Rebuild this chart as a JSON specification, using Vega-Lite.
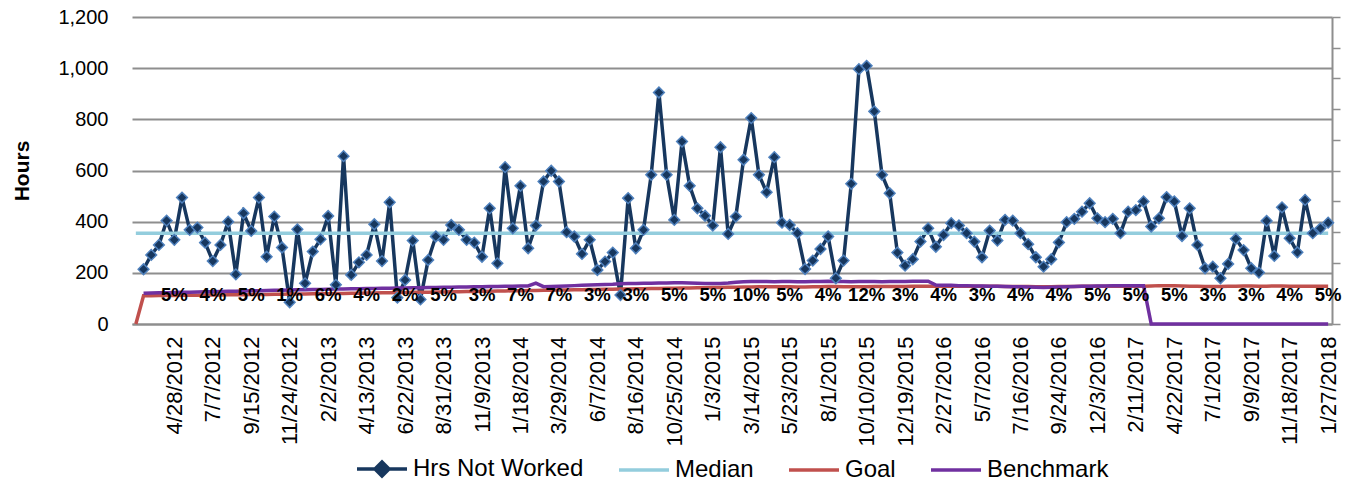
{
  "$schema": "https://vega.github.io/schema/vega-lite/v6.json",
  "width": 1200,
  "height": 307,
  "autosize": {"type": "none"},
  "padding": {"left": 132, "top": 17, "right": 16, "bottom": 167},
  "background": "white",
  "config": {
    "font": "Liberation Sans",
    "view": {"stroke": null},
    "axis": {"labelColor": "#000000", "labelFont": "Liberation Sans", "titleColor": "#000000"}
  },
  "data": {
    "values": [
      {"date": "2/18/2012", "goal": 0},
      {"date": "3/3/2012", "hrs": 214, "goal": 110, "bench": 120},
      {"date": "3/17/2012", "hrs": 270, "goal": 110, "bench": 121},
      {"date": "3/31/2012", "hrs": 309, "goal": 111, "bench": 122},
      {"date": "4/14/2012", "hrs": 404, "goal": 111, "bench": 122},
      {"date": "4/28/2012", "hrs": 329, "goal": 111, "bench": 123, "pct": "5%"},
      {"date": "5/12/2012", "hrs": 494, "goal": 112, "bench": 124},
      {"date": "5/26/2012", "hrs": 368, "goal": 112, "bench": 124},
      {"date": "6/9/2012", "hrs": 377, "goal": 112, "bench": 125},
      {"date": "6/23/2012", "hrs": 318, "goal": 113, "bench": 126},
      {"date": "7/7/2012", "hrs": 246, "goal": 113, "bench": 126, "pct": "4%"},
      {"date": "7/21/2012", "hrs": 309, "goal": 113, "bench": 127},
      {"date": "8/4/2012", "hrs": 400, "goal": 114, "bench": 128},
      {"date": "8/18/2012", "hrs": 194, "goal": 114, "bench": 128},
      {"date": "9/1/2012", "hrs": 433, "goal": 114, "bench": 129},
      {"date": "9/15/2012", "hrs": 364, "goal": 115, "bench": 130, "pct": "5%"},
      {"date": "9/29/2012", "hrs": 494, "goal": 115, "bench": 130},
      {"date": "10/13/2012", "hrs": 263, "goal": 115, "bench": 131},
      {"date": "10/27/2012", "hrs": 420, "goal": 116, "bench": 132},
      {"date": "11/10/2012", "hrs": 299, "goal": 116, "bench": 132},
      {"date": "11/24/2012", "hrs": 85, "goal": 117, "bench": 133, "pct": "1%"},
      {"date": "12/8/2012", "hrs": 370, "goal": 117, "bench": 134},
      {"date": "12/22/2012", "hrs": 159, "goal": 117, "bench": 134},
      {"date": "1/5/2013", "hrs": 283, "goal": 118, "bench": 135},
      {"date": "1/19/2013", "hrs": 331, "goal": 118, "bench": 135},
      {"date": "2/2/2013", "hrs": 422, "goal": 118, "bench": 136, "pct": "6%"},
      {"date": "2/16/2013", "hrs": 153, "goal": 119, "bench": 137},
      {"date": "3/2/2013", "hrs": 656, "goal": 119, "bench": 137},
      {"date": "3/16/2013", "hrs": 192, "goal": 120, "bench": 138},
      {"date": "3/30/2013", "hrs": 241, "goal": 120, "bench": 138},
      {"date": "4/13/2013", "hrs": 270, "goal": 121, "bench": 139, "pct": "4%"},
      {"date": "4/27/2013", "hrs": 390, "goal": 121, "bench": 139},
      {"date": "5/11/2013", "hrs": 246, "goal": 122, "bench": 140},
      {"date": "5/25/2013", "hrs": 476, "goal": 122, "bench": 140},
      {"date": "6/8/2013", "hrs": 103, "goal": 123, "bench": 141},
      {"date": "6/22/2013", "hrs": 172, "goal": 123, "bench": 141, "pct": "2%"},
      {"date": "7/6/2013", "hrs": 326, "goal": 124, "bench": 142},
      {"date": "7/20/2013", "hrs": 96, "goal": 124, "bench": 142},
      {"date": "8/3/2013", "hrs": 250, "goal": 124, "bench": 143},
      {"date": "8/17/2013", "hrs": 342, "goal": 125, "bench": 143},
      {"date": "8/31/2013", "hrs": 329, "goal": 125, "bench": 144, "pct": "5%"},
      {"date": "9/14/2013", "hrs": 387, "goal": 126, "bench": 144},
      {"date": "9/28/2013", "hrs": 368, "goal": 126, "bench": 145},
      {"date": "10/12/2013", "hrs": 329, "goal": 127, "bench": 145},
      {"date": "10/26/2013", "hrs": 318, "goal": 127, "bench": 146},
      {"date": "11/9/2013", "hrs": 263, "goal": 128, "bench": 146, "pct": "3%"},
      {"date": "11/23/2013", "hrs": 452, "goal": 128, "bench": 147},
      {"date": "12/7/2013", "hrs": 237, "goal": 129, "bench": 147},
      {"date": "12/21/2013", "hrs": 613, "goal": 129, "bench": 148},
      {"date": "1/4/2014", "hrs": 374, "goal": 130, "bench": 148},
      {"date": "1/18/2014", "hrs": 540, "goal": 130, "bench": 149, "pct": "7%"},
      {"date": "2/1/2014", "hrs": 296, "goal": 131, "bench": 149},
      {"date": "2/15/2014", "hrs": 385, "goal": 131, "bench": 160},
      {"date": "3/1/2014", "hrs": 557, "goal": 132, "bench": 146},
      {"date": "3/15/2014", "hrs": 599, "goal": 132, "bench": 147},
      {"date": "3/29/2014", "hrs": 557, "goal": 133, "bench": 148, "pct": "7%"},
      {"date": "4/12/2014", "hrs": 359, "goal": 133, "bench": 149},
      {"date": "4/26/2014", "hrs": 342, "goal": 134, "bench": 150},
      {"date": "5/10/2014", "hrs": 274, "goal": 134, "bench": 151},
      {"date": "5/24/2014", "hrs": 329, "goal": 135, "bench": 152},
      {"date": "6/7/2014", "hrs": 211, "goal": 135, "bench": 153, "pct": "3%"},
      {"date": "6/21/2014", "hrs": 244, "goal": 136, "bench": 154},
      {"date": "7/5/2014", "hrs": 279, "goal": 136, "bench": 155},
      {"date": "7/19/2014", "hrs": 113, "goal": 137, "bench": 157},
      {"date": "8/2/2014", "hrs": 492, "goal": 137, "bench": 158},
      {"date": "8/16/2014", "hrs": 296, "goal": 138, "bench": 158, "pct": "3%"},
      {"date": "8/30/2014", "hrs": 368, "goal": 138, "bench": 159},
      {"date": "9/13/2014", "hrs": 583, "goal": 139, "bench": 159},
      {"date": "9/27/2014", "hrs": 905, "goal": 139, "bench": 160},
      {"date": "10/11/2014", "hrs": 583, "goal": 140, "bench": 160},
      {"date": "10/25/2014", "hrs": 407, "goal": 140, "bench": 161, "pct": "5%"},
      {"date": "11/8/2014", "hrs": 713, "goal": 141, "bench": 161},
      {"date": "11/22/2014", "hrs": 540, "goal": 141, "bench": 160},
      {"date": "12/6/2014", "hrs": 452, "goal": 142, "bench": 159},
      {"date": "12/20/2014", "hrs": 423, "goal": 142, "bench": 158},
      {"date": "1/3/2015", "hrs": 385, "goal": 143, "bench": 158, "pct": "5%"},
      {"date": "1/17/2015", "hrs": 691, "goal": 143, "bench": 158},
      {"date": "1/31/2015", "hrs": 352, "goal": 144, "bench": 160},
      {"date": "2/14/2015", "hrs": 420, "goal": 144, "bench": 163},
      {"date": "2/28/2015", "hrs": 642, "goal": 145, "bench": 165},
      {"date": "3/14/2015", "hrs": 805, "goal": 145, "bench": 166, "pct": "10%"},
      {"date": "3/28/2015", "hrs": 583, "goal": 146, "bench": 166},
      {"date": "4/11/2015", "hrs": 515, "goal": 146, "bench": 166},
      {"date": "4/25/2015", "hrs": 652, "goal": 146, "bench": 165},
      {"date": "5/9/2015", "hrs": 396, "goal": 146, "bench": 166},
      {"date": "5/23/2015", "hrs": 387, "goal": 146, "bench": 166, "pct": "5%"},
      {"date": "6/6/2015", "hrs": 355, "goal": 145, "bench": 165},
      {"date": "6/20/2015", "hrs": 215, "goal": 145, "bench": 165},
      {"date": "7/4/2015", "hrs": 248, "goal": 146, "bench": 166},
      {"date": "7/18/2015", "hrs": 293, "goal": 146, "bench": 166},
      {"date": "8/1/2015", "hrs": 342, "goal": 147, "bench": 167, "pct": "4%"},
      {"date": "8/15/2015", "hrs": 179, "goal": 147, "bench": 166},
      {"date": "8/29/2015", "hrs": 248, "goal": 146, "bench": 166},
      {"date": "9/12/2015", "hrs": 548, "goal": 146, "bench": 165},
      {"date": "9/26/2015", "hrs": 996, "goal": 146, "bench": 166},
      {"date": "10/10/2015", "hrs": 1009, "goal": 146, "bench": 166, "pct": "12%"},
      {"date": "10/24/2015", "hrs": 831, "goal": 147, "bench": 166},
      {"date": "11/7/2015", "hrs": 583, "goal": 147, "bench": 165},
      {"date": "11/21/2015", "hrs": 511, "goal": 147, "bench": 166},
      {"date": "12/5/2015", "hrs": 279, "goal": 147, "bench": 166},
      {"date": "12/19/2015", "hrs": 228, "goal": 147, "bench": 166, "pct": "3%"},
      {"date": "1/2/2016", "hrs": 253, "goal": 148, "bench": 167},
      {"date": "1/16/2016", "hrs": 322, "goal": 148, "bench": 167},
      {"date": "1/30/2016", "hrs": 374, "goal": 148, "bench": 167},
      {"date": "2/13/2016", "hrs": 302, "goal": 148, "bench": 152},
      {"date": "2/27/2016", "hrs": 348, "goal": 148, "bench": 151, "pct": "4%"},
      {"date": "3/12/2016", "hrs": 394, "goal": 148, "bench": 151},
      {"date": "3/26/2016", "hrs": 385, "goal": 148, "bench": 150},
      {"date": "4/9/2016", "hrs": 355, "goal": 148, "bench": 150},
      {"date": "4/23/2016", "hrs": 322, "goal": 148, "bench": 149},
      {"date": "5/7/2016", "hrs": 261, "goal": 148, "bench": 149, "pct": "3%"},
      {"date": "5/21/2016", "hrs": 365, "goal": 148, "bench": 148},
      {"date": "6/4/2016", "hrs": 326, "goal": 148, "bench": 148},
      {"date": "6/18/2016", "hrs": 407, "goal": 147, "bench": 147},
      {"date": "7/2/2016", "hrs": 404, "goal": 147, "bench": 146},
      {"date": "7/16/2016", "hrs": 355, "goal": 147, "bench": 146, "pct": "4%"},
      {"date": "7/30/2016", "hrs": 312, "goal": 147, "bench": 145},
      {"date": "8/13/2016", "hrs": 261, "goal": 146, "bench": 144},
      {"date": "8/27/2016", "hrs": 224, "goal": 146, "bench": 143},
      {"date": "9/10/2016", "hrs": 253, "goal": 146, "bench": 144},
      {"date": "9/24/2016", "hrs": 319, "goal": 147, "bench": 145, "pct": "4%"},
      {"date": "10/8/2016", "hrs": 398, "goal": 147, "bench": 146},
      {"date": "10/22/2016", "hrs": 411, "goal": 147, "bench": 147},
      {"date": "11/5/2016", "hrs": 439, "goal": 148, "bench": 148},
      {"date": "11/19/2016", "hrs": 472, "goal": 148, "bench": 148},
      {"date": "12/3/2016", "hrs": 413, "goal": 148, "bench": 149, "pct": "5%"},
      {"date": "12/17/2016", "hrs": 398, "goal": 148, "bench": 149},
      {"date": "12/31/2016", "hrs": 411, "goal": 148, "bench": 150},
      {"date": "1/14/2017", "hrs": 355, "goal": 148, "bench": 150},
      {"date": "1/28/2017", "hrs": 439, "goal": 148, "bench": 150},
      {"date": "2/11/2017", "hrs": 445, "goal": 148, "bench": 150, "pct": "5%"},
      {"date": "2/25/2017", "hrs": 479, "goal": 148, "bench": 150},
      {"date": "3/11/2017", "hrs": 381, "goal": 149, "bench": 0},
      {"date": "3/25/2017", "hrs": 413, "goal": 150, "bench": 0},
      {"date": "4/8/2017", "hrs": 496, "goal": 150, "bench": 0},
      {"date": "4/22/2017", "hrs": 479, "goal": 150, "bench": 0, "pct": "5%"},
      {"date": "5/6/2017", "hrs": 344, "goal": 149, "bench": 0},
      {"date": "5/20/2017", "hrs": 452, "goal": 148, "bench": 0},
      {"date": "6/3/2017", "hrs": 309, "goal": 148, "bench": 0},
      {"date": "6/17/2017", "hrs": 218, "goal": 147, "bench": 0},
      {"date": "7/1/2017", "hrs": 224, "goal": 147, "bench": 0, "pct": "3%"},
      {"date": "7/15/2017", "hrs": 179, "goal": 147, "bench": 0},
      {"date": "7/29/2017", "hrs": 235, "goal": 148, "bench": 0},
      {"date": "8/12/2017", "hrs": 333, "goal": 148, "bench": 0},
      {"date": "8/26/2017", "hrs": 289, "goal": 149, "bench": 0},
      {"date": "9/9/2017", "hrs": 218, "goal": 149, "bench": 0, "pct": "3%"},
      {"date": "9/23/2017", "hrs": 201, "goal": 148, "bench": 0},
      {"date": "10/7/2017", "hrs": 403, "goal": 148, "bench": 0},
      {"date": "10/21/2017", "hrs": 266, "goal": 149, "bench": 0},
      {"date": "11/4/2017", "hrs": 456, "goal": 149, "bench": 0},
      {"date": "11/18/2017", "hrs": 335, "goal": 148, "bench": 0, "pct": "4%"},
      {"date": "12/2/2017", "hrs": 280, "goal": 148, "bench": 0},
      {"date": "12/16/2017", "hrs": 485, "goal": 148, "bench": 0},
      {"date": "12/30/2017", "hrs": 355, "goal": 148, "bench": 0},
      {"date": "1/13/2018", "hrs": 374, "goal": 148, "bench": 0},
      {"date": "1/27/2018", "hrs": 396, "goal": 148, "bench": 0, "pct": "5%"}
    ]
  },
  "encoding": {
    "x": {
      "field": "date",
      "type": "temporal",
      "scale": {"domain": [{"year": 2012, "month": 2, "date": 11}, {"year": 2018, "month": 2, "date": 3}]},
      "axis": {
        "title": null,
        "format": "%-m/%-d/%Y",
        "values": [
          {"year": 2012, "month": 4, "date": 28}, {"year": 2012, "month": 7, "date": 7}, {"year": 2012, "month": 9, "date": 15}, {"year": 2012, "month": 11, "date": 24},
          {"year": 2013, "month": 2, "date": 2}, {"year": 2013, "month": 4, "date": 13}, {"year": 2013, "month": 6, "date": 22}, {"year": 2013, "month": 8, "date": 31}, {"year": 2013, "month": 11, "date": 9},
          {"year": 2014, "month": 1, "date": 18}, {"year": 2014, "month": 3, "date": 29}, {"year": 2014, "month": 6, "date": 7}, {"year": 2014, "month": 8, "date": 16}, {"year": 2014, "month": 10, "date": 25},
          {"year": 2015, "month": 1, "date": 3}, {"year": 2015, "month": 3, "date": 14}, {"year": 2015, "month": 5, "date": 23}, {"year": 2015, "month": 8, "date": 1}, {"year": 2015, "month": 10, "date": 10}, {"year": 2015, "month": 12, "date": 19},
          {"year": 2016, "month": 2, "date": 27}, {"year": 2016, "month": 5, "date": 7}, {"year": 2016, "month": 7, "date": 16}, {"year": 2016, "month": 9, "date": 24}, {"year": 2016, "month": 12, "date": 3},
          {"year": 2017, "month": 2, "date": 11}, {"year": 2017, "month": 4, "date": 22}, {"year": 2017, "month": 7, "date": 1}, {"year": 2017, "month": 9, "date": 9}, {"year": 2017, "month": 11, "date": 18},
          {"year": 2018, "month": 1, "date": 27}
        ],
        "labelAngle": 270,
        "labelFontSize": 22,
        "labelPadding": 12,
        "labelOverlap": false,
        "labelFlush": false,
        "ticks": false,
        "grid": false,
        "domain": true,
        "domainColor": "#8E8E8E",
        "domainWidth": 2
      }
    }
  },
  "layer": [
    {
      "mark": {"type": "line", "strokeWidth": 3.5},
      "encoding": {
        "y": {
          "field": "hrs",
          "type": "quantitative",
          "scale": {"domain": [0, 1200], "nice": false},
          "axis": {
            "title": "Hours",
            "titleFontSize": 21,
            "titleFontWeight": "bold",
            "titlePadding": 25,
            "values": [0, 200, 400, 600, 800, 1000, 1200],
            "format": ",.0f",
            "labelFontSize": 20,
            "labelPadding": 24,
            "ticks": false,
            "domain": false,
            "grid": true,
            "gridColor": "#8E8E8E",
            "gridWidth": 2
          }
        },
        "color": {
          "datum": "Hrs Not Worked",
          "type": "nominal",
          "scale": {"domain": ["Hrs Not Worked", "Median", "Goal", "Benchmark"], "range": ["#17375E", "#93CDDD", "#C0504D", "#7030A0"]},
          "legend": {
            "orient": "none",
            "legendX": 223,
            "legendY": 425,
            "direction": "horizontal",
            "title": null,
            "padding": 0,
            "symbolType": "stroke",
            "symbolSize": 2500,
            "symbolStrokeWidth": 3.5,
            "labelFontSize": 24,
            "labelLimit": 400,
            "labelColor": "#000000",
            "labelOffset": 4,
            "columnPadding": 28,
            "encode": {
              "symbols": {
                "update": {
                  "shape": {"signal": "datum.value === 'Hrs Not Worked' ? 'M-1,0L1,0M0,-0.28L0.28,0L0,0.28L-0.28,0Z' : 'stroke'"},
                  "fill": {"signal": "datum.value === 'Hrs Not Worked' ? '#17375E' : 'transparent'"}
                }
              }
            }
          }
        }
      }
    },
    {
      "mark": {"type": "line", "strokeWidth": 3.5},
      "encoding": {
        "y": {"datum": 355, "type": "quantitative", "axis": null},
        "color": {"datum": "Median", "type": "nominal"}
      }
    },
    {
      "mark": {"type": "line", "strokeWidth": 3.5},
      "encoding": {
        "y": {"field": "goal", "type": "quantitative", "axis": null},
        "color": {"datum": "Goal", "type": "nominal"}
      }
    },
    {
      "mark": {"type": "line", "strokeWidth": 3.5},
      "encoding": {
        "y": {"field": "bench", "type": "quantitative", "axis": null},
        "color": {"datum": "Benchmark", "type": "nominal"}
      }
    },
    {
      "mark": {"type": "point", "shape": "diamond", "filled": true, "size": 115, "fill": "#17375E", "stroke": "#4F81BD", "strokeWidth": 1.5, "opacity": 1},
      "encoding": {
        "y": {"field": "hrs", "type": "quantitative", "axis": null}
      }
    },
    {
      "transform": [{"filter": "datum.pct"}],
      "mark": {"type": "text", "fontSize": 18.5, "fontWeight": "bold", "color": "#000000", "baseline": "middle", "align": "center"},
      "encoding": {
        "text": {"field": "pct"},
        "y": {
          "datum": 113,
          "type": "quantitative",
          "axis": {
            "orient": "right",
            "title": null,
            "values": [0, 120, 240, 360, 480, 600, 720, 840, 960, 1080, 1200],
            "labels": false,
            "ticks": true,
            "tickSize": 8,
            "tickColor": "#8E8E8E",
            "tickWidth": 1.5,
            "domain": true,
            "domainColor": "#8E8E8E",
            "domainWidth": 2,
            "grid": false
          }
        }
      }
    }
  ],
  "resolve": {"axis": {"y": "independent"}}
}
